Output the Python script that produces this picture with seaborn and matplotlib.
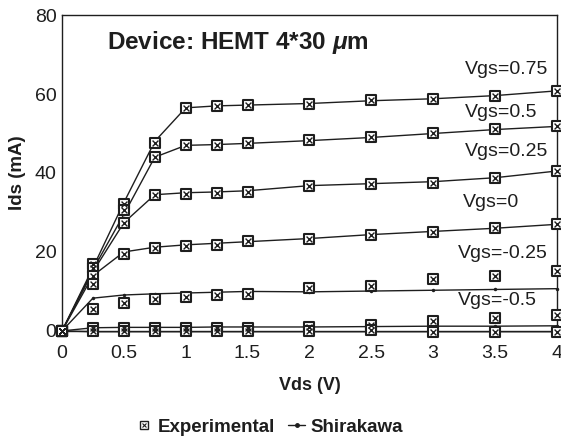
import numpy as np
import pandas as pd
import matplotlib
matplotlib.use("Agg")
import matplotlib.pyplot as plt
import seaborn as sns
from matplotlib.lines import Line2D
from matplotlib.legend_handler import HandlerTuple

sns.set_theme(style="white")
plt.rcParams['font.family'] = ['Liberation Sans', 'DejaVu Sans']
plt.rcParams['mathtext.fontset'] = 'custom'
plt.rcParams['mathtext.it'] = 'Liberation Sans:italic:bold'

vds = [0, 0.25, 0.5, 0.75, 1, 1.25, 1.5, 2, 2.5, 3, 3.5, 4]
vgs_levels = ["0.75", "0.5", "0.25", "0", "-0.25", "-0.5", "-0.75"]

exp_075 = [0, 17, 32.2, 47.7, 56.4, 57.0, 57.2, 57.6, 58.5, 58.8, 59.6, 60.8]
exp_050 = [0, 16, 30.5, 44, 47.2, 47.2, 47.5, 48.4, 49.2, 50.1, 51.2, 51.8]
exp_025 = [0, 14, 27.4, 34.3, 34.8, 35, 35.3, 36.8, 37.3, 37.4, 38.8, 40.6]
exp_000 = [0, 12, 19.5, 21.1, 21.6, 21.8, 22.8, 23.4, 24.4, 25.1, 26.1, 27.1]
exp_m025 = [0, 5.6, 7.1, 8.1, 8.6, 9.1, 9.4, 10.9, 11.4, 13.2, 14.0, 15.2]
exp_m050 = [0, 0.8, 0.8, 0.8, 0.8, 0.8, 0.8, 1.0, 1.5, 2.5, 3.3, 4.0]
exp_m075 = [0, 0, 0, 0, 0, 0, 0, -0.1, 0.2, -0.2, -0.3, -0.3]

mod_075 = [0, 16, 32.5, 48, 56.5, 57.0, 57.2, 57.6, 58.3, 58.8, 59.6, 60.8]
mod_050 = [0, 15.5, 29.5, 44, 47.0, 47.2, 47.5, 48.2, 49.0, 50.0, 51.0, 51.8]
mod_025 = [0, 15, 27.4, 34.5, 35, 35.2, 35.5, 36.8, 37.3, 37.8, 38.8, 40.5]
mod_000 = [0, 14, 20, 21.2, 21.8, 22.2, 22.6, 23.4, 24.4, 25.2, 26, 27]
mod_m025 = [0, 8.3, 9.1, 9.4, 9.6, 9.8, 10.0, 9.9, 10.1, 10.3, 10.5, 10.7]
mod_m050 = [0, 0.8, 0.9, 0.9, 0.9, 1.0, 1.0, 1.0, 1.1, 1.2, 1.2, 1.3]
mod_m075 = [0, -0.2, -0.2, -0.2, -0.2, -0.2, -0.2, -0.2, -0.2, -0.2, -0.2, -0.2]

exp_all = [exp_075, exp_050, exp_025, exp_000, exp_m025, exp_m050, exp_m075]
mod_all = [mod_075, mod_050, mod_025, mod_000, mod_m025, mod_m050, mod_m075]

label_text = ["Vgs=0.75", "Vgs=0.5", "Vgs=0.25", "Vgs=0", "Vgs=-0.25", "Vgs=-0.5"]
label_x = [3.26, 3.26, 3.26, 3.24, 3.20, 3.20]
label_y = [66.2, 55.3, 45.4, 32.5, 19.5, 7.6]

rows_e, rows_m = [], []
for lvl, e, m in zip(vgs_levels, exp_all, mod_all):
    for x, ye, ym in zip(vds, e, m):
        rows_e.append({"Vds": x, "Ids": ye, "Vgs": lvl})
        rows_m.append({"Vds": x, "Ids": ym, "Vgs": lvl})
df_e = pd.DataFrame(rows_e)
df_m = pd.DataFrame(rows_m)

ink = "#1e1e1e"
fig = plt.figure(figsize=(5.61, 4.43), dpi=100)
ax = fig.add_axes([0.1105, 0.253, 0.882, 0.713])

pal = {l: ink for l in vgs_levels}
sns.lineplot(data=df_m, x="Vds", y="Ids", hue="Vgs", palette=pal, units="Vgs",
             estimator=None, linewidth=1.0, marker="o", markersize=2.5,
             markeredgewidth=0, legend=False, ax=ax, clip_on=False, zorder=2)
sns.scatterplot(data=df_e, x="Vds", y="Ids", color="white", marker="s",
                s=55, edgecolor=ink, linewidth=1.5,
                legend=False, ax=ax, clip_on=False, zorder=3)
sns.scatterplot(data=df_e, x="Vds", y="Ids", color=ink, marker="x",
                s=18, linewidth=1.0, legend=False, ax=ax, clip_on=False, zorder=4)
for c in ax.collections:
    c.set_clip_on(False)

ax.set_xlim(0, 4)
ax.set_ylim(0, 80)
ax.set_xticks([0, 0.5, 1, 1.5, 2, 2.5, 3, 3.5, 4])
ax.set_xticklabels(["0", "0.5", "1", "1.5", "2", "2.5", "3", "3.5", "4"])
ax.set_yticks([0, 20, 40, 60, 80])
ax.tick_params(length=0, labelsize=14, colors=ink)
ax.tick_params(axis="x", pad=10)
ax.tick_params(axis="y", pad=4)
for s in ax.spines.values():
    s.set_color(ink)
    s.set_linewidth(1.0)

ax.set_xlabel("Vds (V)", fontsize=13, fontweight="bold", color=ink, labelpad=11)
ax.set_ylabel("Ids (mA)", fontsize=13.5, fontweight="bold", color=ink, labelpad=6)

ax.text(0.36, 73.1, "Device: HEMT 4*30 $\\mu$m", fontsize=17.5, fontweight="bold",
        color=ink, va="center", ha="left")
for t, x, y in zip(label_text, label_x, label_y):
    ax.text(x, y, t, fontsize=14, color=ink, va="center", ha="left")

h_exp = (Line2D([], [], marker="s", markersize=6, markerfacecolor="white",
                markeredgecolor=ink, linestyle="none", markeredgewidth=1.0),
         Line2D([], [], marker="x", markersize=3.5, color=ink, linestyle="none",
                markeredgewidth=0.8))
h_mod = Line2D([], [], color=ink, linewidth=1.0, marker="o", markersize=2.5)
fig.legend([h_exp, h_mod], ["Experimental", "Shirakawa"],
           handler_map={tuple: HandlerTuple(ndivide=1, pad=0)},
           loc="center", bbox_to_anchor=(0.48, 0.036), ncol=2, frameon=False,
           prop={"size": 13.5, "weight": "bold"}, handlelength=0.9,
           handletextpad=0.3, columnspacing=0.7, labelcolor=ink)

fig.savefig("out.png", dpi=100)
